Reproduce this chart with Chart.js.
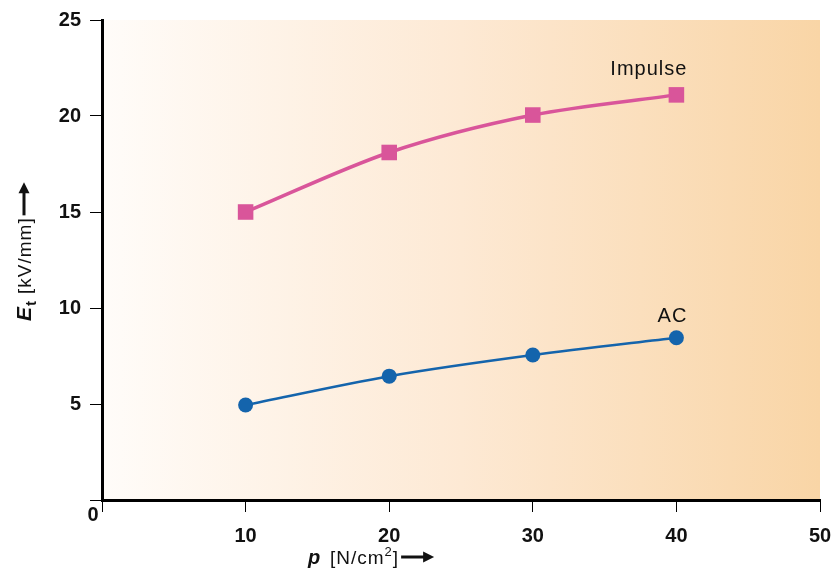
<!DOCTYPE html>
<html lang="en">
<head>
    <meta charset="UTF-8">
    <title>Et vs p</title>
    <script src="https://cdn.jsdelivr.net/npm/chart.js@4/dist/chart.umd.min.js"></script>
    <style>
        body { margin: 0; background: #fff; }
        #wrap { width: 833px; height: 571px; position: relative; }
    </style>
</head>
<body>
    <div id="wrap"><canvas id="chart"></canvas></div>
    <script>
        const pressures = [10, 20, 30, 40];
        const impulseValues = [15.0, 18.1, 20.05, 21.1];
        const acValues = [4.95, 6.45, 7.55, 8.45];
        const xTicks = [0, 10, 20, 30, 40, 50];
        const yTicks = [0, 5, 10, 15, 20, 25];
        const seriesLabels = ['Impulse', 'AC'];

        const FONT = '"Liberation Sans", Arial, sans-serif';

        function arrow(ctx, x, y, len) {
            ctx.lineWidth = 3;
            ctx.strokeStyle = '#111';
            ctx.beginPath(); ctx.moveTo(x, y); ctx.lineTo(x + len - 6, y); ctx.stroke();
            ctx.beginPath(); ctx.moveTo(x + len, y); ctx.lineTo(x + len - 11, y - 5.5); ctx.lineTo(x + len - 11, y + 5.5); ctx.closePath(); ctx.fill();
        }

        // peach gradient behind the plot area + hand-drawn titles
        const decor = {
            id: 'decor',
            beforeDraw(chart) {
                const { ctx, chartArea: a } = chart;
                const g = ctx.createLinearGradient(a.left, 0, a.right, 0);
                g.addColorStop(0, '#fffcf9');
                g.addColorStop(0.5, '#fde9d4');
                g.addColorStop(1, '#f9d5a6');
                ctx.save();
                ctx.fillStyle = g;
                ctx.fillRect(a.left, a.top, a.right - a.left, a.bottom - a.top);
                ctx.restore();
            },
            afterDraw(chart) {
                const { ctx, chartArea: a, scales } = chart;
                ctx.save();
                ctx.fillStyle = '#111';
                ctx.textBaseline = 'alphabetic';

                // shared origin label
                ctx.font = 'bold 20px ' + FONT;
                ctx.textAlign = 'center';
                ctx.fillText('0', a.left - 9, a.bottom + 21);

                // series labels
                ctx.letterSpacing = '1px';
                ctx.font = '20px ' + FONT;
                ctx.textAlign = 'right';
                const xr = scales.x.getPixelForValue(pressures[3]) + 11;
                ctx.fillText(seriesLabels[0], xr, scales.y.getPixelForValue(impulseValues[3]) - 20);
                ctx.fillText(seriesLabels[1], xr, scales.y.getPixelForValue(acValues[3]) - 16);

                // x title: p [N/cm2] -->
                let x = 308, y = 564;
                ctx.textAlign = 'left';
                ctx.font = 'bold italic 20px ' + FONT;
                ctx.fillText('p', x, y); x += 22;
                ctx.font = '19px ' + FONT;
                ctx.fillText('[N/cm', x, y); x += ctx.measureText('[N/cm').width;
                ctx.font = '13px ' + FONT;
                ctx.fillText('2', x, y - 8); x += ctx.measureText('2').width;
                ctx.font = '19px ' + FONT;
                ctx.fillText(']', x, y); x += ctx.measureText(']').width + 2;
                arrow(ctx, x, y - 7, 33);

                // y title rotated: E_t [kV/mm] -->
                ctx.translate(31, 321);
                ctx.rotate(-Math.PI / 2);
                x = 0; y = 0;
                ctx.font = 'bold italic 21px ' + FONT;
                ctx.fillText('E', x, y); x += ctx.measureText('E').width;
                ctx.font = 'bold 15px ' + FONT;
                ctx.fillText('t', x, y + 5); x += ctx.measureText('t').width + 6;
                ctx.font = '19px ' + FONT;
                ctx.fillText('[kV/mm]', x, y); x += ctx.measureText('[kV/mm]').width + 2;
                arrow(ctx, x, y - 7, 33);
                ctx.restore();
            }
        };

        const tickStyle = { color: '#111', font: { family: FONT, size: 20, weight: 'bold' } };

        new Chart(document.getElementById('chart'), {
            type: 'line',
            data: {
                datasets: [{
                    label: seriesLabels[0],
                    data: pressures.map((p, i) => ({ x: p, y: impulseValues[i] })),
                    borderColor: '#d9559a',
                    backgroundColor: '#d9559a',
                    borderWidth: 3.5,
                    pointStyle: 'rect',
                    pointRadius: 11,
                    pointBorderWidth: 0,
                    tension: 0.3
                }, {
                    label: seriesLabels[1],
                    data: pressures.map((p, i) => ({ x: p, y: acValues[i] })),
                    borderColor: '#1464ac',
                    backgroundColor: '#1464ac',
                    borderWidth: 2.5,
                    pointStyle: 'circle',
                    pointRadius: 7.5,
                    pointBorderWidth: 0,
                    tension: 0.3
                }]
            },
            options: {
                responsive: true,
                maintainAspectRatio: false,
                animation: false,
                layout: { padding: { top: 20, right: 13, left: 0, bottom: 0 } },
                plugins: { legend: { display: false }, tooltip: { enabled: false } },
                scales: {
                    x: {
                        type: 'linear',
                        min: 0, max: 50,
                        afterBuildTicks: s => { s.ticks = xTicks.map(v => ({ value: v })); },
                        afterFit: s => { s.height = 71; s.paddingLeft = 0; s.paddingRight = 0; },
                        border: { display: true, width: 3, color: '#000' },
                        grid: { drawOnChartArea: false, drawTicks: true, tickLength: 12, color: '#000', lineWidth: 1 },
                        ticks: { ...tickStyle, padding: 12, maxRotation: 0, callback: v => v === 0 ? '' : v }
                    },
                    y: {
                        min: 0, max: 25,
                        afterBuildTicks: s => { s.ticks = yTicks.map(v => ({ value: v })); },
                        afterFit: s => { s.width = 102; s.paddingTop = 0; s.paddingBottom = 0; },
                        border: { display: true, width: 3, color: '#000' },
                        grid: { drawOnChartArea: false, drawTicks: true, tickLength: 12, color: '#000', lineWidth: 1 },
                        ticks: { ...tickStyle, padding: 9, callback: v => v === 0 ? '' : v }
                    }
                }
            },
            plugins: [decor]
        });
    </script>
</body>
</html>
